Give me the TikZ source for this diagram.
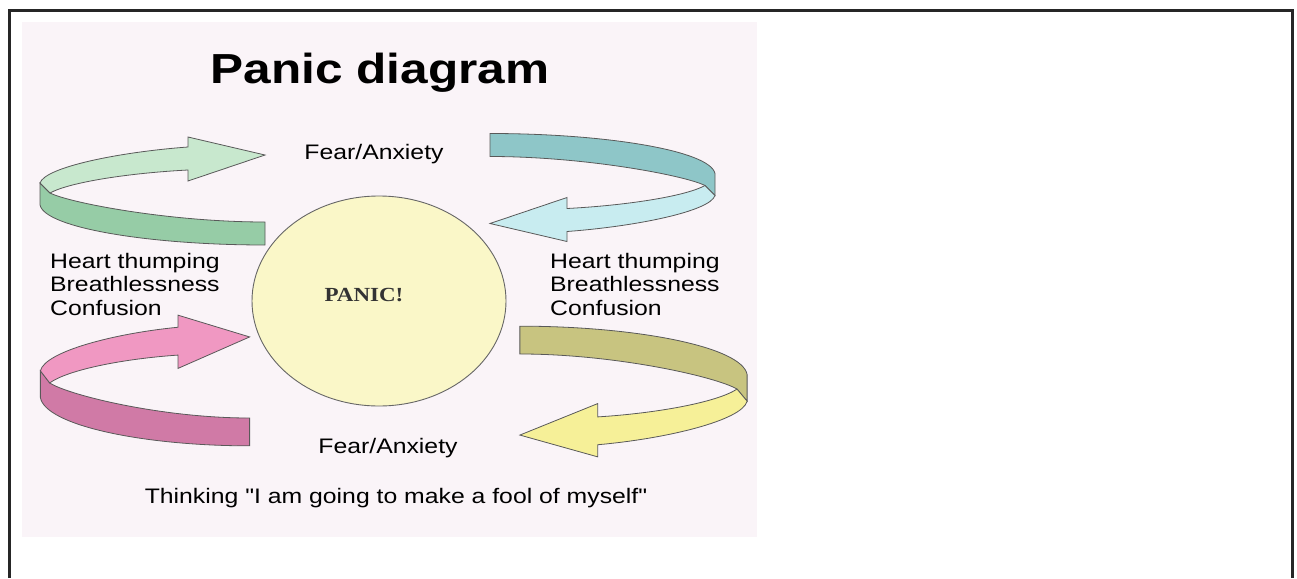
\documentclass[tikz,border=0pt]{standalone}
\usepackage{fontspec}
\setmainfont{Liberation Sans}[FakeStretch=1.18]
\newfontfamily\straightquotes{Liberation Sans}[FakeStretch=1.18]
\newfontfamily\panicserif{Liberation Serif}[FakeStretch=1.15]

% colours of the panel, the bubble and the ribbons
\definecolor{panelbg}{RGB}{250,244,248}
\definecolor{panicfill}{RGB}{250,247,200}
\definecolor{greenlight}{RGB}{200,232,206}
\definecolor{greendark}{RGB}{150,204,166}
\definecolor{teallight}{RGB}{200,236,240}
\definecolor{tealdark}{RGB}{142,198,200}
\definecolor{pinklight}{RGB}{240,152,194}
\definecolor{pinkdark}{RGB}{208,122,166}
\definecolor{yellowlight}{RGB}{246,240,152}
\definecolor{olivedark}{RGB}{200,196,128}

\tikzset{
  ribbonface/.style={draw=black!65, line width=0.8pt},
  bodytext/.style={font=\fontsize{21}{23.5}\selectfont, inner sep=0pt}
}

% one curled ribbon arrow: #1 placement, #2 top face, #3 back face
\newcommand{\ribbon}[3]{%
\begin{scope}[#1]
\filldraw[ribbonface, fill=#3] (-112.5,-8) -- (-102.5,2) .. controls (-82.5,12) and (17.5,31) .. (112.5,31) -- (112.5,54) .. controls (-2.5,54) and (-107.5,37) .. (-112.5,14) -- cycle;
\filldraw[ribbonface, fill=#2] (-112.5,-8) .. controls (-107.5,-24) and (-32.5,-39) .. (35.5,-44) -- (35.5,-54) -- (112.5,-36) -- (35.5,-10) -- (35.5,-21) .. controls (-22.5,-18) and (-82.5,-9) .. (-102.5,2) -- cycle;
\end{scope}}

\begin{document}
\begin{tikzpicture}[x=1pt, y=-1pt]
\useasboundingbox (0,0) rectangle (1297,578);

% Outer frame and the panel
\draw[line width=3pt, black!85] (9,578) -- (9,11) -- (1292,11) -- (1292,578);
\fill[panelbg] (22,22) rectangle (757,537);

% The four ribbons
\ribbon{shift={(152.5,191)}}{greenlight}{greendark}
\ribbon{shift={(602.5,187.5)}, rotate=180}{teallight}{tealdark}
\ribbon{shift={(145,380.5)}, xscale=0.93, yscale=1.21}{pinklight}{pinkdark}
\ribbon{shift={(633.5,391.5)}, rotate=180, xscale=1.01, yscale=1.21}{yellowlight}{olivedark}

% The bubble in the middle
\filldraw[fill=panicfill, draw=black!60, line width=0.9pt] (379,301) ellipse (127 and 105);
\node[anchor=base, font=\panicserif\bfseries\fontsize{20}{24}\selectfont, text=black!80] (paniclabel) at (364,301) {PANIC!};

% Texts
\node[anchor=base, font=\bfseries\fontsize{42}{50}\selectfont] (title) at (380,83) {Panic diagram};
\node[bodytext, anchor=base] (feartop) at (374,159) {Fear/Anxiety};
\node[bodytext, anchor=base] (fearbottom) at (388,453) {Fear/Anxiety};
\node[bodytext, anchor=north west, align=left] (symptomsleft) at (50,253) {Heart thumping\\Breathlessness\\Confusion};
\node[bodytext, anchor=north west, align=left] (symptomsright) at (550,253) {Heart thumping\\Breathlessness\\Confusion};
\node[bodytext, anchor=base, font=\straightquotes\fontsize{21}{23.5}\selectfont] (thinking) at (396,503) {Thinking "I am going to make a fool of myself"};
\end{tikzpicture}
\end{document}
